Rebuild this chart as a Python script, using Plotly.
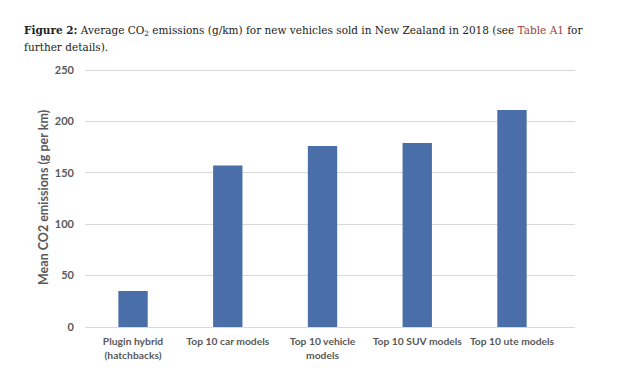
import plotly.graph_objects as go

categories = ["Plugin hybrid<br>(hatchbacks)", "Top 10 car models", "Top 10 vehicle<br>models",
              "Top 10 SUV models", "Top 10 ute models"]
values = [35, 157, 176, 179, 211]
y_ticks = [0, 50, 100, 150, 200, 250]

# the page body has an 8px margin, so work in shifted pixel coordinates
O = 8
W, H = 620 - O, 373 - O
L, R, T, B = 85 - O, 45, 69 - O, 46
pw, ph = W - L - R, H - T - B

def px(x):
    return (x - O - L) / pw

def py(y):
    return (H - B - (y - O)) / ph

gray = "#595959"
fig = go.Figure(go.Bar(
    x=list(range(len(categories))), y=values,
    marker=dict(color="#4A6FA8", line=dict(width=0)),
    width=0.31,
))

fig.update_layout(
    width=W, height=H, margin=dict(l=L, r=R, t=T, b=B),
    paper_bgcolor="white", plot_bgcolor="white",
    showlegend=False,
    xaxis=dict(
        tickmode="array", tickvals=list(range(len(categories))), ticktext=categories,
        range=[-0.507, 4.665], showgrid=False, zeroline=False, showline=False,
        tickfont=dict(family="Lato", size=10.3, color=gray, weight="bold"),
        ticks="", ticklabelstandoff=7, tickangle=0, automargin=False,
    ),
    yaxis=dict(
        range=[0, 251], tickvals=y_ticks, showgrid=True, gridcolor="#d9d9d9", gridwidth=1,
        zeroline=True, zerolinecolor="#d9d9d9", zerolinewidth=1, showline=False,
        tickfont=dict(family="Lato", size=11, color=gray, weight="bold"),
        ticks="", ticklabelstandoff=10, automargin=False,
    ),
    annotations=[
        dict(text="<b>Figure 2:</b> Average CO<sub>2</sub> emissions (g/km) for new vehicles sold in New Zealand in 2018 (see <span style='color:#9B3F3F'>Table A1</span> for",
             x=px(22), y=py(31), xref="paper", yref="paper", xanchor="left", yanchor="middle",
             showarrow=False, font=dict(family="DejaVu Serif", size=10.5, color="#222222")),
        dict(text="further details).",
             x=px(22), y=py(47), xref="paper", yref="paper", xanchor="left", yanchor="middle",
             showarrow=False, font=dict(family="DejaVu Serif", size=10.5, color="#222222")),
        dict(text="Mean CO2 emissions (g per km)", textangle=-90,
             x=px(43), y=py(198), xref="paper", yref="paper", xanchor="center", yanchor="middle",
             showarrow=False, font=dict(family="Lato", size=12.5, color=gray, weight="bold")),
    ],
)

fig.write_html("out.html")
